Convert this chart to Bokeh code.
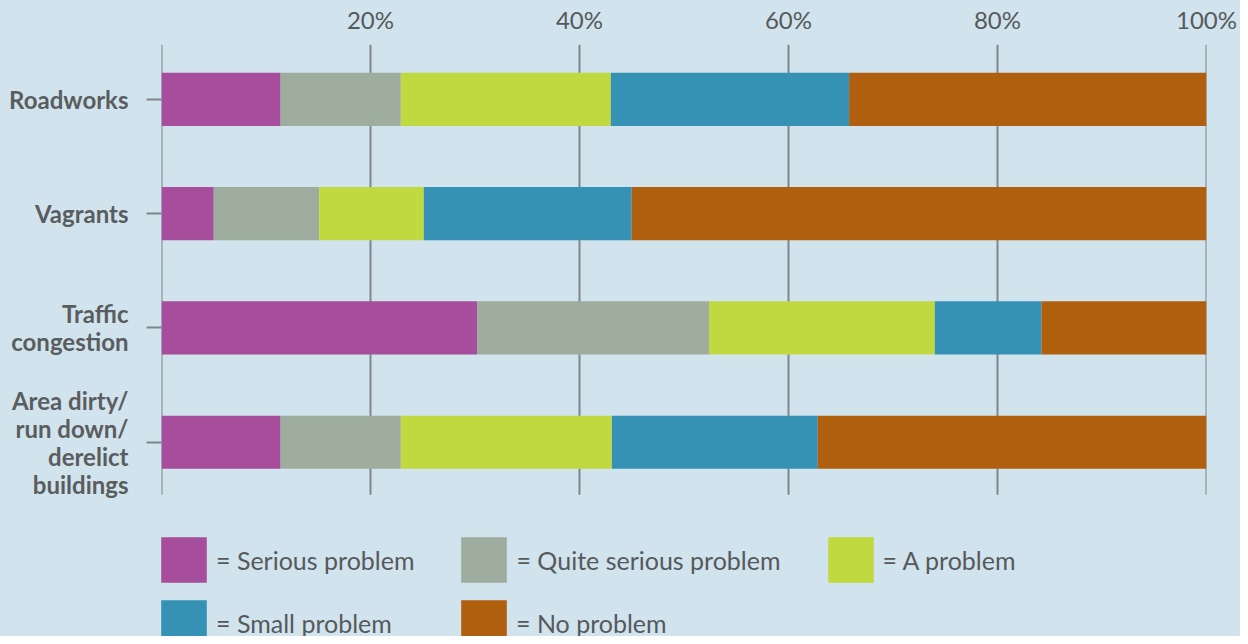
from bokeh.plotting import figure
from bokeh.models import (Range1d, FixedTicker, Legend, LegendItem, ColumnDataSource,
                          LinearAxis)
from bokeh.embed import file_html
from bokeh.resources import INLINE

categories = ["Roadworks", "Vagrants", "Traffic\ncongestion",
              "Area dirty/\nrun down/\nderelict\nbuildings"]
serious = [11.4, 5.0, 30.2, 11.4]
quite_serious = [11.5, 10.1, 22.2, 11.5]
a_problem = [20.1, 10.0, 21.6, 20.2]
small = [22.8, 19.9, 10.2, 19.7]
no_problem = [34.2, 55.0, 15.8, 37.2]

series_names = ["serious", "quite", "a", "small", "none"]
labels = ["= Serious problem", "= Quite serious problem", "= A problem",
          "= Small problem", "= No problem"]
colors = ["#a64d9b", "#9fad9f", "#c1d940", "#3592b4", "#b05f0f"]
x_ticks = [20, 40, 60, 80, 100]
grid_ticks = [0] + x_ticks

ypos = [3, 2, 1, 0]
src = ColumnDataSource(dict(y=ypos, serious=serious, quite=quite_serious,
                            a=a_problem, small=small, none=no_problem))

BG = "#d1e3ec"
TXT = "#56595c"
GRID = "#80868b"
FONT = "Lato"

# bar area spans y from Y_LO to Y_HI; the frame extends below it for the legend
Y_LO, Y_HI = -0.46, 3.48
Y_BOTTOM = -1.70

p = figure(width=1240, height=636, output_backend="svg", toolbar_location=None,
           x_range=Range1d(0, 100), y_range=Range1d(Y_BOTTOM, Y_HI),
           x_axis_location=None, y_axis_location="left",
           min_border_left=161, min_border_right=34, min_border_top=44,
           min_border_bottom=0)
p.styles = {"background-color": BG}
p.background_fill_alpha = 0
p.border_fill_alpha = 0
p.outline_line_color = None
p.grid.grid_line_color = None

# vertical grid lines, limited to the bar area
p.segment(x0=grid_ticks, x1=grid_ticks, y0=[Y_LO] * len(grid_ticks),
          y1=[Y_HI] * len(grid_ticks), line_color=GRID, line_width=2)

rs = p.hbar_stack(series_names, y="y", height=0.465, color=colors,
                  source=src, line_width=0)

top = LinearAxis(ticker=FixedTicker(ticks=x_ticks))
top.major_label_overrides = {t: f"{t}%" for t in x_ticks}
top.axis_line_color = None
top.major_tick_line_color = None
top.minor_tick_line_color = None
top.major_tick_out = 0
top.major_tick_in = 0
top.major_label_standoff = 11
top.major_label_text_font = FONT
top.major_label_text_font_size = "24px"
top.major_label_text_color = TXT
p.add_layout(top, "above")

ya = p.yaxis[0]
ya.ticker = FixedTicker(ticks=ypos)
ya.major_label_overrides = {y: c for y, c in zip(ypos, categories)}
ya.axis_line_color = None
ya.major_tick_line_color = GRID
ya.major_tick_line_width = 2
ya.major_tick_out = 15
ya.major_tick_in = 0
ya.minor_tick_line_color = None
ya.major_label_standoff = 18
ya.major_label_text_font = FONT
ya.major_label_text_font_style = "bold"
ya.major_label_text_font_size = "24px"
ya.major_label_text_line_height = 0.97
ya.major_label_text_color = "#5a5d60"

# legend glyph box is drawn at 80% of its size, so a 57px box gives a ~46px square
common = dict(orientation="horizontal", glyph_width=57, glyph_height=57,
              label_standoff=4, label_text_font=FONT, label_text_font_size="25px",
              label_text_color=TXT, spacing=41, padding=0, margin=0,
              background_fill_alpha=0, border_line_color=None, label_height=57)
row1 = Legend(items=[LegendItem(label=labels[i], renderers=[rs[i]]) for i in range(3)],
              location=(-6, 48), **common)
row2 = Legend(items=[LegendItem(label=labels[i], renderers=[rs[i]]) for i in range(3, 5)],
              location=(-6, -15), label_width=198, **common)
p.add_layout(row1)
p.add_layout(row2)

open("out.html", "w").write(file_html(p, INLINE))
